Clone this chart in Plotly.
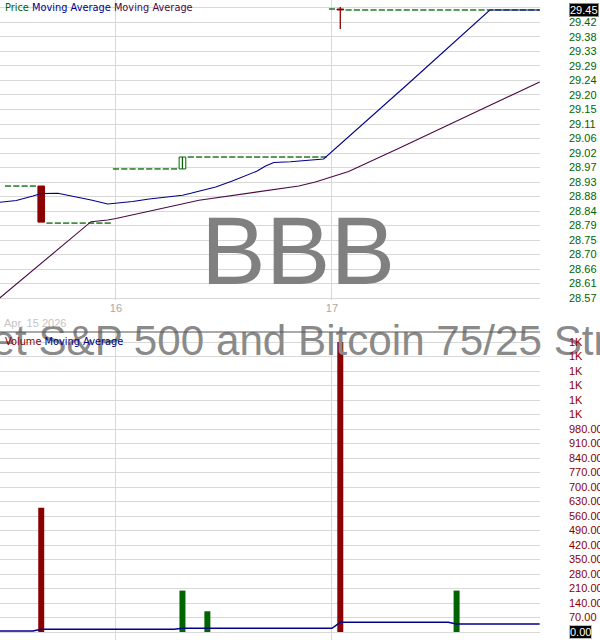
import plotly.graph_objects as go
from datetime import datetime

# ---------------- data ----------------
day_labels = ["16", "17"]
day_open_times = ["2026-04-16 09:30", "2026-04-17 09:30"]
start_label = "Apr, 15 2026"

# bars with no price change (O=H=L=C), given as runs of consecutive 15-min bars
flat_start = ["2026-04-15 12:45", "2026-04-15 14:00", "2026-04-16 09:30",
              "2026-04-16 11:45", "2026-04-17 09:30", "2026-04-17 10:00"]
flat_end = ["2026-04-15 13:30", "2026-04-15 15:45", "2026-04-16 11:15",
            "2026-04-16 15:45", "2026-04-17 09:30", "2026-04-17 15:45"]
flat_price = [28.915, 28.80, 28.968, 29.005, 29.4644, 29.4613]

# traded candles
candle_time = ["2026-04-15 13:45", "2026-04-16 11:30", "2026-04-17 09:45"]
candle_open = [28.915, 28.968, 29.4644]
candle_high = [28.915, 29.005, 29.4706]
candle_low = [28.803, 28.968, 29.4023]
candle_close = [28.803, 29.005, 29.4613]

# short moving average (blue)
ma1_time = ["2026-04-15 12:30", "2026-04-15 13:00", "2026-04-15 13:30", "2026-04-15 13:45",
            "2026-04-15 14:15", "2026-04-15 14:45", "2026-04-15 15:15", "2026-04-15 15:45",
            "2026-04-16 09:30", "2026-04-16 10:00", "2026-04-16 10:30", "2026-04-16 11:00",
            "2026-04-16 11:30", "2026-04-16 11:45", "2026-04-16 12:00", "2026-04-16 12:30",
            "2026-04-16 13:00", "2026-04-16 13:30", "2026-04-16 13:45", "2026-04-16 14:00",
            "2026-04-16 14:15", "2026-04-16 14:45", "2026-04-16 15:15", "2026-04-16 15:45",
            "2026-04-17 11:45", "2026-04-17 14:15", "2026-04-17 15:45"]
ma1_value = [28.8645, 28.8701, 28.8841, 28.8918,
             28.8924, 28.8825, 28.8716, 28.8592,
             28.8614, 28.8670, 28.8748, 28.8803,
             28.8865, 28.8924, 28.8996, 28.9120,
             28.9306, 28.9523, 28.9616, 28.9772,
             28.9880, 28.9905, 28.9949, 28.9989,
             29.2285, 29.4613, 29.4613]

# long moving average (purple)
ma2_time = ["2026-04-15 12:30", "2026-04-15 14:15", "2026-04-15 15:15", "2026-04-15 15:45",
            "2026-04-16 09:30", "2026-04-16 12:00", "2026-04-16 13:30", "2026-04-16 15:00",
            "2026-04-16 15:30", "2026-04-17 09:30", "2026-04-17 10:00", "2026-04-17 11:30",
            "2026-04-17 13:00", "2026-04-17 14:30", "2026-04-17 15:45"]
ma2_value = [28.5675, 28.7186, 28.8043, 28.8096,
             28.8142, 28.8710, 28.8934, 28.9151,
             28.9275, 28.9430, 28.9601, 29.0315,
             29.1044, 29.1773, 29.2378]

# volume
vol_time = ["2026-04-15 13:45", "2026-04-16 11:30", "2026-04-16 12:15",
            "2026-04-17 09:45", "2026-04-17 13:15"]
vol_value = [600, 200, 100, 1400, 200]
vol_up = [False, True, True, False, True]

# volume moving average
vma_time = ["2026-04-15 12:30", "2026-04-15 13:30", "2026-04-15 13:45", "2026-04-16 11:15",
            "2026-04-16 11:30", "2026-04-17 09:30", "2026-04-17 09:45", "2026-04-17 13:00",
            "2026-04-17 13:15", "2026-04-17 15:45"]
vma_value = [4.8, 4.8, 13.0, 13.0, 17.9, 17.9, 46.8, 46.8, 38.6, 38.6]

# axis ticks
price_tick_values = [28.5675, 28.6125, 28.6575, 28.7025, 28.7475, 28.7925, 28.8375,
                     28.8825, 28.9275, 28.9725, 29.0175, 29.0625, 29.1075, 29.1525,
                     29.1975, 29.2425, 29.2875, 29.3325, 29.3775, 29.4225, 29.4675]
price_tick_labels = ["28.57", "28.61", "28.66", "28.70", "28.75", "28.79", "28.84",
                     "28.88", "28.93", "28.97", "29.02", "29.06", "29.11", "29.15",
                     "29.20", "29.24", "29.29", "29.33", "29.38", "29.42", ""]
vol_tick_values = [0, 70, 140, 210, 280, 350, 420, 490, 560, 630, 700, 770, 840,
                   910, 980, 1050, 1120, 1190, 1260, 1330, 1400]
vol_tick_labels = ["", "70.00", "140.00", "210.00", "280.00", "350.00", "420.00",
                   "490.00", "560.00", "630.00", "700.00", "770.00", "840.00",
                   "910.00", "980.00", "1K", "1K", "1K", "1K", "1K", "1K"]
last_price_label = "29.45"
last_volume_label = "0.00"

ticker = "BBB"
fund_name = "Cyber Hornet S&P 500 and Bitcoin 75/25 Strategy ETF"

# ---------------- helpers ----------------
SESSION_OPEN = 9 * 60 + 30
BARS_PER_DAY = 26
REF_DAY = datetime(2026, 4, 16).date()


def bar_pos(ts):
    t = datetime.strptime(ts, "%Y-%m-%d %H:%M")
    d = (t.date() - REF_DAY).days
    return d * BARS_PER_DAY + (t.hour * 60 + t.minute - SESSION_OPEN) / 15.0


GREEN = "#006400"
RED = "#8B0000"
BLUE = "#00008B"
PURPLE = "#4B0A45"
GRID = "#d8d8d8"
X_RANGE = [-13.963, 51.04]
Y1_RANGE = [28.5613, 29.4923]
Y2_RANGE = [-38.6, 1448.3]
TICK_HALF = 0.37
W, H = 600, 640
PLOT_W = 540

fig = go.Figure()

# watermark fund name (below other marks)
fig.add_trace(go.Scatter(
    x=[X_RANGE[0] + (X_RANGE[1] - X_RANGE[0]) * 289 / PLOT_W], y=[1387],
    mode="text", text=[fund_name], textposition="middle center",
    textfont=dict(family="Liberation Sans", size=42.2, color="#8a8a8a"),
    cliponaxis=False, hoverinfo="skip", xaxis="x2", yaxis="y2"))

# flat (no-change) bars
fx, fy = [], []
for s, e, v in zip(flat_start, flat_end, flat_price):
    a, b = int(round(bar_pos(s))), int(round(bar_pos(e)))
    for i in range(a, b + 1):
        fx += [i - TICK_HALF, i + TICK_HALF, None]
        fy += [v, v, None]
fig.add_trace(go.Scatter(x=fx, y=fy, mode="lines", line=dict(color=GREEN, width=1.3),
                         hoverinfo="skip", xaxis="x", yaxis="y"))

# moving averages
fig.add_trace(go.Scatter(x=[bar_pos(t) for t in ma2_time], y=ma2_value, mode="lines",
                         line=dict(color=PURPLE, width=1.1), hoverinfo="skip"))
fig.add_trace(go.Scatter(x=[bar_pos(t) for t in ma1_time], y=ma1_value, mode="lines",
                         line=dict(color=BLUE, width=1.1), hoverinfo="skip"))

# candles: wicks
for t, o, h, l, c in zip(candle_time, candle_open, candle_high, candle_low, candle_close):
    up = c > o
    p = bar_pos(t)
    fig.add_trace(go.Scatter(x=[p, p], y=[l, h], mode="lines",
                             line=dict(color=GREEN if up else RED, width=1.3),
                             hoverinfo="skip"))
# candles: bodies
body_base = [min(o, c) for o, c in zip(candle_open, candle_close)]
body_h = [max(abs(c - o), 0.0031) for o, c in zip(candle_open, candle_close)]
body_fill = ["white" if c > o else RED for o, c in zip(candle_open, candle_close)]
body_line = [GREEN if c > o else RED for o, c in zip(candle_open, candle_close)]
fig.add_trace(go.Bar(x=[bar_pos(t) for t in candle_time], y=body_h, base=body_base,
                     width=0.8, marker=dict(color=body_fill, line=dict(color=body_line, width=1)),
                     hoverinfo="skip", xaxis="x", yaxis="y"))

# volume
fig.add_trace(go.Bar(x=[bar_pos(t) for t in vol_time], y=vol_value, width=0.72,
                     marker=dict(color=[GREEN if u else RED for u in vol_up], line=dict(width=0)),
                     hoverinfo="skip", xaxis="x2", yaxis="y2"))
fig.add_trace(go.Scatter(x=[bar_pos(t) for t in vma_time], y=vma_value, mode="lines",
                         line=dict(color=BLUE, width=1.4), hoverinfo="skip",
                         xaxis="x2", yaxis="y2"))

day_pos = [bar_pos(t) for t in day_open_times]
top_dom = [1 - 300 / H, 1]
bot_dom = [0, 1 - 332 / H]
axis_font = dict(family="Liberation Sans", size=11)

fig.update_layout(
    width=W, height=H, margin=dict(l=0, r=W - PLOT_W, t=0, b=0, autoexpand=False),
    paper_bgcolor="white", plot_bgcolor="white", showlegend=False, barmode="overlay",
    hovermode=False,
    xaxis=dict(domain=[0, 1], range=X_RANGE, anchor="y", tickvals=day_pos, ticktext=day_labels,
               showgrid=True, gridcolor=GRID, gridwidth=1, zeroline=False, showline=False,
               automargin=False, ticks="", tickfont=dict(axis_font, color="#a8a8a8")),
    yaxis=dict(domain=top_dom, range=Y1_RANGE, side="right", anchor="x",
               tickvals=price_tick_values, ticktext=price_tick_labels, automargin=False,
               showgrid=True, gridcolor=GRID, zeroline=False, ticks="",
               ticklabelstandoff=28, tickfont=dict(axis_font, color=GREEN)),
    xaxis2=dict(domain=[0, 1], range=X_RANGE, anchor="y2", tickvals=day_pos, automargin=False,
                showticklabels=False, showgrid=True, gridcolor=GRID, zeroline=False, ticks=""),
    yaxis2=dict(domain=bot_dom, range=Y2_RANGE, side="right", anchor="x2",
                tickvals=vol_tick_values, ticktext=vol_tick_labels, automargin=False,
                showgrid=True, gridcolor=GRID, zeroline=False, ticks="",
                ticklabelstandoff=28, tickfont=dict(axis_font, color=RED)),
)

# separator between panels
fig.add_shape(type="line", xref="paper", yref="paper", x0=0, x1=1, y0=bot_dom[1], y1=bot_dom[1],
              line=dict(color="#555555", width=1), layer="above")

legend_font = dict(family="DejaVu Sans", size=9.8)
fig.add_annotation(xref="paper", yref="paper", x=3 / PLOT_W, y=1 - 7 / H, xanchor="left",
                   yanchor="middle", showarrow=False, font=legend_font,
                   text=f"<span style='color:{GREEN}'>Price</span> "
                        f"<span style='color:{BLUE}'>Moving Average</span> "
                        f"<span style='color:{PURPLE}'>Moving Average</span>")
fig.add_annotation(xref="paper", yref="paper", x=3 / PLOT_W, y=1 - 341 / H, xanchor="left",
                   yanchor="middle", showarrow=False, font=legend_font,
                   text=f"<span style='color:{RED}'>Volume</span> "
                        f"<span style='color:{BLUE}'>Moving Average</span>")
fig.add_annotation(xref="paper", yref="paper", x=2 / PLOT_W, y=1 - 323 / H, xanchor="left",
                   yanchor="middle", showarrow=False,
                   font=dict(family="Liberation Sans", size=11, color="#c4c4c4"), text=start_label)
fig.add_annotation(xref="paper", yref="paper", x=298 / PLOT_W, y=1 - 250 / H, xanchor="center",
                   yanchor="middle", showarrow=False,
                   font=dict(family="Liberation Sans", size=97, color="#808080"), text=ticker)
# last value boxes
fig.add_annotation(xref="paper", yref="paper", x=569 / PLOT_W, y=1 - 10 / H, xanchor="left",
                   yanchor="middle", showarrow=False, bgcolor="black", bordercolor="#888888",
                   borderwidth=1, borderpad=0,
                   font=dict(family="Liberation Sans", size=11, color="white"), text=last_price_label)
fig.add_annotation(xref="paper", yref="paper", x=569 / PLOT_W, y=1 - 632 / H, xanchor="left",
                   yanchor="middle", showarrow=False, bgcolor="black", bordercolor="#bbbbbb",
                   borderwidth=1, borderpad=0,
                   font=dict(family="Liberation Sans", size=11, color="white"), text=last_volume_label)

fig.write_html("out.html", config={"displayModeBar": False, "staticPlot": True},
               post_script="document.body.style.margin='0px';"
                           "document.body.style.overflow='hidden';")
